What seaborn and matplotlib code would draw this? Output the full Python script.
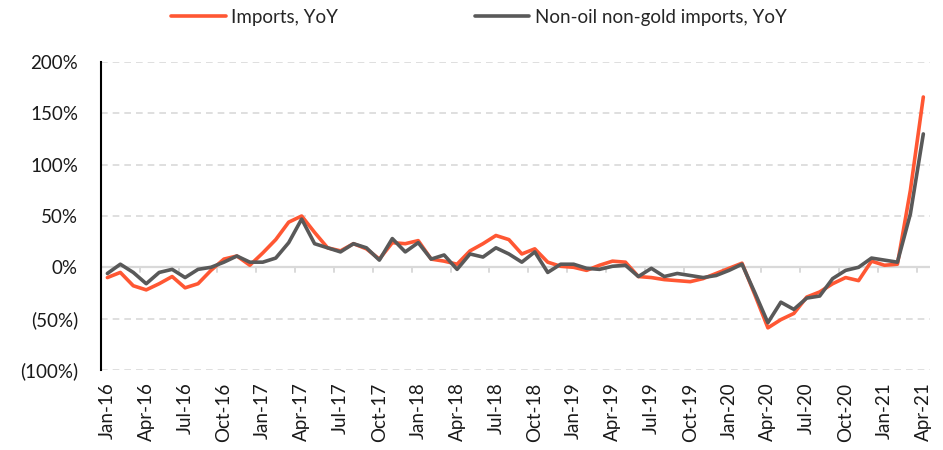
import matplotlib
matplotlib.use('Agg')
import matplotlib.pyplot as plt
import matplotlib.ticker as mticker
import seaborn as sns
import pandas as pd
import numpy as np

# monthly series, Jan-16 .. Apr-21
months = pd.date_range('2016-01-01', '2021-04-01', freq='MS')
month_labels = [d.strftime('%b-%y') for d in months]

imports_yoy = [-10, -5, -18, -22, -16, -9, -20, -16, -3, 8, 11, 2,
               14, 27, 44, 50, 34, 19, 16, 23, 18, 8, 24, 23,
               26, 8, 6, 3, 16, 23, 31, 27, 13, 18, 5, 1,
               0, -3, 2, 6, 5, -9, -10, -12, -13, -14, -11, -6,
               -1, 4, -27, -59, -51, -45, -29, -24, -16, -10, -13, 6,
               2, 3, 75, 166]
nonoil_yoy = [-6, 3, -5, -16, -5, -2, -10, -2, 0, 5, 11, 5,
              5, 9, 24, 47, 23, 19, 15, 23, 19, 7, 28, 15,
              24, 8, 12, -2, 13, 10, 19, 13, 5, 15, -5, 3,
              3, -1, -2, 1, 2, -9, -1, -9, -6, -8, -10, -8,
              -3, 3, -25, -54, -34, -41, -30, -28, -11, -3, 0, 9,
              7, 5, 52, 130]

red = '#FF5733'
grey = '#595959'

df = pd.DataFrame({
    'idx': list(range(len(months))) * 2,
    'value': imports_yoy + nonoil_yoy,
    'series': ['Imports, YoY'] * len(months) + ['Non-oil non-gold imports, YoY'] * len(months),
})

sns.set_style('white')
plt.rcParams['font.family'] = ['Lato', 'DejaVu Sans']

fig = plt.figure(figsize=(9.43, 4.5), dpi=100)
ax = fig.add_axes([0.107, 0.178, 0.879, 0.684])

# gridlines
for v in [50, 100, 150, 200, -50, -100]:
    ax.axhline(v, color='#d9d9d9', lw=1.2, ls=(0, (4, 3)), zorder=0)
ax.axhline(0, color='#d9d9d9', lw=1.6, zorder=1)

sns.lineplot(data=df, x='idx', y='value', hue='series',
             palette=[red, grey], linewidth=2.6, ax=ax, zorder=3,
             solid_joinstyle='round', solid_capstyle='round')

n = len(months)
ax.set_xlim(-0.5, n - 0.5)
ax.set_ylim(-100, 200)

# category labels every quarter, tick marks between categories on the zero line
ax.set_xticks(range(0, n, 3))
ax.set_xticklabels(month_labels[::3], rotation=90, fontsize=13.5, color='#1a1a1a')
ax.tick_params(axis='x', length=0, pad=9)
for k in np.arange(-0.5, n, 3)[1:]:
    ax.plot([k, k], [0, -5], color='#d9d9d9', lw=1.4, zorder=1)

ax.set_yticks([-100, -50, 0, 50, 100, 150, 200])
ax.yaxis.set_major_formatter(mticker.FuncFormatter(
    lambda v, p: f'({abs(v):.0f}%)' if v < 0 else f'{v:.0f}%'))
ax.tick_params(axis='y', labelsize=13.5, labelcolor='#1a1a1a', color='black',
               direction='inout', length=5, width=1.2, pad=14)

for s in ['top', 'right', 'bottom']:
    ax.spines[s].set_visible(False)
ax.spines['left'].set_color('black')
ax.spines['left'].set_linewidth(1.5)

ax.set_xlabel('')
ax.set_ylabel('')

handles, labels = ax.get_legend_handles_labels()
ax.legend_.remove()
fig.legend(handles, labels, loc='center', bbox_to_anchor=(0.508, 0.962), ncol=2,
           frameon=False, fontsize=13.5, columnspacing=7.3, handlelength=2.9,
           handletextpad=0.3)

fig.savefig('out.png', dpi=100)
